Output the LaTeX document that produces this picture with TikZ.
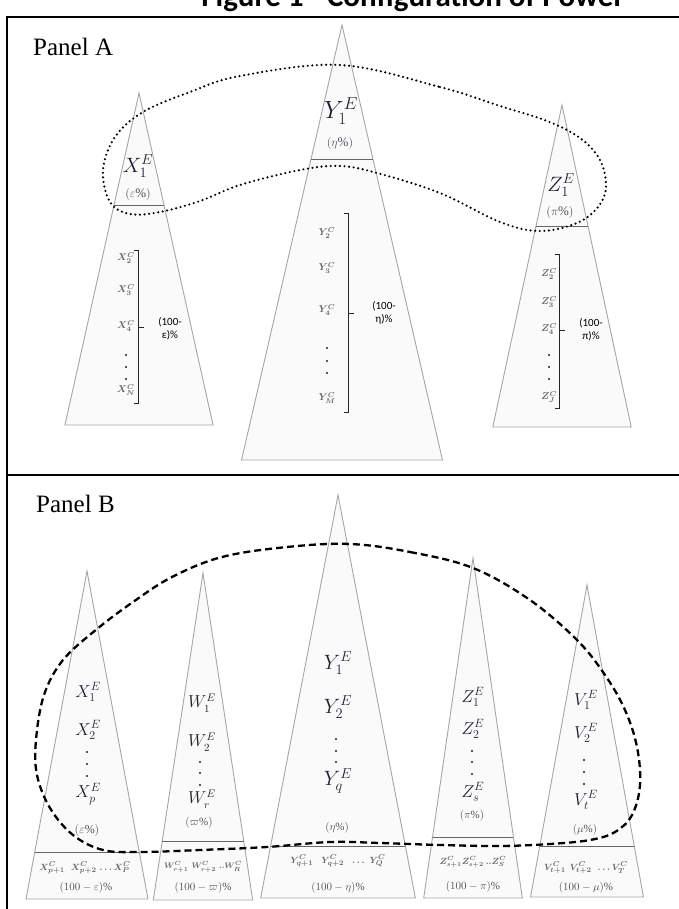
\documentclass[tikz,border=0pt]{standalone}
\usepackage{fontspec}
\setmainfont{Liberation Serif}
\newfontfamily\calibri{Carlito}
\usetikzlibrary{calc}

\definecolor{inkE}{RGB}{30,34,48}
\definecolor{inkC}{RGB}{105,105,112}
\definecolor{inkP}{RGB}{80,80,92}

\tikzset{
  cone/.style={draw=gray!70, line width=0.9pt, fill=gray!4},
  splitline/.style={draw=gray!80!black, line width=0.9pt},
  frameline/.style={draw=black, line width=2pt},
  groupdots/.style={draw=black, line width=2.4pt, line cap=round, dash pattern=on 0pt off 4.6pt},
  groupdash/.style={draw=black, line width=2.3pt, dash pattern=on 7pt off 4pt},
  elab/.style={inner sep=0pt, text=inkE},
  clab/.style={inner sep=0pt, text=inkC, font=\boldmath\fontsize{10}{10}\selectfont},
  plab/.style={inner sep=0pt, text=inkP, font=\fontsize{13}{14}\selectfont},
  lowlab/.style={inner sep=0pt, text=inkC, font=\boldmath\fontsize{9.5}{10}\selectfont},
  restlab/.style={inner sep=0pt, text=inkP, font=\fontsize{11}{12}\selectfont},
  blab/.style={inner sep=0pt, align=center, font=\calibri\fontsize{11}{13}\selectfont},
  brace/.style={draw=black!85, line width=0.8pt},
  dotmark/.style={fill=inkE},
}

% cone: apex x, apex y, half-width per unit height, base y
\newcommand\conedraw[4]{%
  \path[cone] (#1,#2) -- ({#1-#3*(#4-#2)},#4) -- ({#1+#3*(#4-#2)},#4) -- cycle;}
% horizontal cut across a cone: apex x, apex y, slope, cut y
\newcommand\conecut[4]{%
  \draw[splitline] ({#1-#3*(#4-#2)},#4) -- ({#1+#3*(#4-#2)},#4);}
% three stacked dots: x, y1, y2, y3
\newcommand\stackdots[4]{%
  \fill[dotmark] (#1,#2) circle (1.1) (#1,#3) circle (1.1) (#1,#4) circle (1.1);}
% right bracket: x, top, bottom, tick y
\newcommand\rbracket[4]{%
  \draw[brace] ({#1-4},#2) -- (#1,#2) -- (#1,#3) -- ({#1-4},#3);
  \draw[brace] (#1,#4) -- ({#1+6},#4);}

\begin{document}
\begin{tikzpicture}[x=1pt,y=-1pt]
\useasboundingbox (0,0) rectangle (678,909);

% heading and frame
\node[anchor=base, inner sep=0pt, font=\calibri\bfseries\fontsize{31}{33}\selectfont] (title) at (413,7) {Figure 1 - Configuration of Power};
\draw[frameline] (690,17) -- (7,17) -- (7,920);
\draw[frameline] (7,475) -- (690,475);
\node[anchor=base west, inner sep=0pt, font=\fontsize{25}{26}\selectfont] (panelA) at (33,56) {Panel A};
\node[anchor=base west, inner sep=0pt, font=\fontsize{25}{26}\selectfont] (panelB) at (36,512) {Panel B};

% ---------------- Panel A ----------------
\conedraw{139}{93}{0.223}{425}
\conecut{139}{93}{0.223}{205}
\conedraw{342}{25}{0.231}{460}
\conecut{342}{25}{0.231}{159}
\conedraw{562}{105}{0.215}{427}
\conecut{562}{105}{0.215}{226}

\node[elab, font=\fontsize{20}{20}\selectfont] (xa) at (138,166) {$X_1^E$};
\node[plab] (xap) at (138,195) {$(\varepsilon\%)$};
\node[elab, font=\fontsize{24}{24}\selectfont] (ya) at (341,111) {$Y_1^E$};
\node[plab] (yap) at (340,144) {$(\eta\%)$};
\node[elab, font=\fontsize{21}{21}\selectfont] (za) at (561,185) {$Z_1^E$};
\node[plab] (zap) at (560,212) {$(\pi\%)$};

% followers of X
\node[clab] (xc2) at (126,258) {$X_2^C$};
\node[clab] (xc3) at (126,290) {$X_3^C$};
\node[clab] (xc4) at (126,326) {$X_4^C$};
\stackdots{126}{355}{367}{379}
\node[clab] (xcn) at (126,390) {$X_N^C$};
\rbracket{138}{250}{403}{327}
\node[blab] (xrest) at (170,329) {(100-\\ε)\%};

% followers of Y
\node[clab] (yc2) at (327,233) {$Y_2^C$};
\node[clab] (yc3) at (327,268) {$Y_3^C$};
\node[clab] (yc4) at (327,310) {$Y_4^C$};
\stackdots{327}{348}{361}{373}
\node[clab] (ycm) at (327,398) {$Y_M^C$};
\rbracket{348}{213}{412}{313}
\node[blab] (yrest) at (384,313) {(100-\\η)\%};

% followers of Z
\node[clab] (zc2) at (549,274) {$Z_2^C$};
\node[clab] (zc3) at (549,302) {$Z_3^C$};
\node[clab] (zc4) at (549,329) {$Z_4^C$};
\stackdots{549}{355}{367}{379}
\node[clab] (zcj) at (549,397) {$Z_J^C$};
\rbracket{559}{254}{408}{330}
\node[blab] (zrest) at (591,330) {(100-\\π)\%};

% elite circle across the three leaders
\draw[groupdots] plot[smooth cycle, tension=0.6] coordinates {
  (340,65) (440,87) (500,106) (547,121) (580,138) (600,160) (606,187)
  (598,207) (577,223) (540,231) (500,222) (440,193) (377,173) (340,166)
  (300,170) (240,185) (200,201) (160,212) (130,214) (110,202) (103,170)
  (115,137) (143,112) (190,92) (240,76)};

% ---------------- Panel B ----------------
\conedraw{87}{571}{0.186}{899}
\conecut{87}{571}{0.186}{852}
\conedraw{203}{573}{0.152}{900}
\conecut{203}{573}{0.152}{841}
\conedraw{338}{495}{0.192}{898}
\conecut{338}{495}{0.192}{846}
\conedraw{473}{558}{0.145}{898}
\conecut{473}{558}{0.145}{837}
\conedraw{587}{585}{0.181}{897}
\conecut{587}{585}{0.181}{846}

% X column
\node[elab, font=\fontsize{17}{17}\selectfont] (xb1) at (88,692) {$X_1^E$};
\node[elab, font=\fontsize{17}{17}\selectfont] (xb2) at (88,730) {$X_2^E$};
\stackdots{87}{752}{764}{776}
\node[elab, font=\fontsize{17}{17}\selectfont] (xbp) at (88,794) {$X_p^E$};
\node[plab, font=\fontsize{12}{13}\selectfont] (xbpct) at (87,830) {$(\varepsilon\%)$};
\node[lowlab] (xblow) at (85,868) {$X_{p+1}^C$\hspace{6pt}$X_{p+2}^C$\hspace{3pt}$\ldots X_P^C$};
\node[restlab] (xbrest) at (86,888) {$(100-\varepsilon)\%$};

% W column
\node[elab, font=\fontsize{16}{16}\selectfont] (wb1) at (202,703) {$W_1^E$};
\node[elab, font=\fontsize{16}{16}\selectfont] (wb2) at (202,742) {$W_2^E$};
\stackdots{200}{762}{773}{785}
\node[elab, font=\fontsize{16}{16}\selectfont] (wbr) at (202,799) {$W_r^E$};
\node[plab, font=\fontsize{11}{12}\selectfont] (wbpct) at (199,823) {$(\varpi\%)$};
\node[lowlab, font=\boldmath\fontsize{8}{9}\selectfont] (wblow) at (203,867) {$W_{r+1}^C$\hspace{3pt}$W_{r+2}^C$\hspace{3pt}$..W_R^C$};
\node[restlab] (wbrest) at (203,888) {$(100-\varpi)\%$};

% Y column
\node[elab, font=\fontsize{20}{20}\selectfont] (yb1) at (338,663) {$Y_1^E$};
\node[elab, font=\fontsize{20}{20}\selectfont] (yb2) at (338,707) {$Y_2^E$};
\stackdots{336}{739}{751}{762}
\node[elab, font=\fontsize{20}{20}\selectfont] (ybq) at (338,781) {$Y_q^E$};
\node[plab, font=\fontsize{11}{12}\selectfont] (ybpct) at (337,828) {$(\eta\%)$};
\node[lowlab] (yblow) at (338,861) {$Y_{q+1}^C$\hspace{8pt}$Y_{q+2}^C$\hspace{8pt}$\ldots$\hspace{5pt}$Y_Q^C$};
\node[restlab] (ybrest) at (338,888) {$(100-\eta)\%$};

% Z column
\node[elab, font=\fontsize{17}{17}\selectfont] (zb1) at (473,697) {$Z_1^E$};
\node[elab, font=\fontsize{17}{17}\selectfont] (zb2) at (473,729) {$Z_2^E$};
\stackdots{472}{751}{762}{774}
\node[elab, font=\fontsize{17}{17}\selectfont] (zbs) at (473,792) {$Z_s^E$};
\node[plab, font=\fontsize{11}{12}\selectfont] (zbpct) at (472,816) {$(\pi\%)$};
\node[lowlab, font=\boldmath\fontsize{9}{10}\selectfont] (zblow) at (473,862) {$Z_{s+1}^C Z_{s+2}^C$\hspace{2pt}$..Z_S^C$};
\node[restlab] (zbrest) at (473,887) {$(100-\pi)\%$};

% V column
\node[elab, font=\fontsize{17}{17}\selectfont] (vb1) at (586,700) {$V_1^E$};
\node[elab, font=\fontsize{17}{17}\selectfont] (vb2) at (586,733) {$V_2^E$};
\stackdots{584}{760}{772}{784}
\node[elab, font=\fontsize{17}{17}\selectfont] (vbt) at (586,800) {$V_t^E$};
\node[plab, font=\fontsize{11}{12}\selectfont] (vbpct) at (585,830) {$(\mu\%)$};
\node[lowlab] (vblow) at (586,868) {$V_{t+1}^C$\hspace{4pt}$V_{t+2}^C$\hspace{6pt}$\ldots V_T^C$};
\node[restlab] (vbrest) at (586,888) {$(100-\mu)\%$};

% elite circle across all leadership groups
\draw[groupdash] plot[smooth cycle, tension=0.6] coordinates {
  (350,544) (410,552) (473,568) (530,600) (577,640) (605,675) (625,710)
  (637,747) (640,785) (632,815) (615,832) (590,840) (550,844) (500,846)
  (440,845) (380,843) (330,842) (267,847) (200,850) (140,852) (103,850)
  (73,835) (50,808) (37,775) (36,740) (44,695) (63,660) (97,629)
  (133,602) (172,577) (222,557) (287,547)};
\end{tikzpicture}
\end{document}
